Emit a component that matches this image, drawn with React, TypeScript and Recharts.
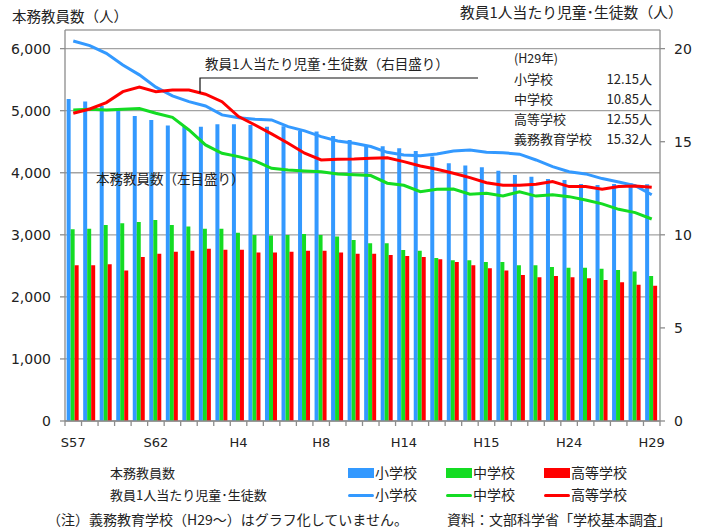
import React from 'react';
import { ComposedChart, Bar, Line, XAxis, YAxis, CartesianGrid } from 'recharts';

if (typeof document !== 'undefined') {
  document.body.style.margin = '0';
}

// ---- data ----
const years = [
  'S57', 'S58', 'S59', 'S60', 'S61', 'S62', 'S63',
  'H1', 'H2', 'H3', 'H4', 'H5', 'H6', 'H7', 'H8', 'H9', 'H10', 'H11', 'H12',
  'H13', 'H14', 'H15', 'H16', 'H17', 'H18', 'H19', 'H20', 'H21', 'H22',
  'H23', 'H24', 'H25', 'H26', 'H27', 'H28', 'H29',
];

// 本務教員数（左目盛り）
const teachersElem = [
  5190, 5146, 5077, 5039, 4915, 4851, 4760, 4743, 4743, 4781, 4781, 4770,
  4743, 4750, 4674, 4663, 4593, 4528, 4448, 4426, 4394, 4350, 4260, 4152,
  4115, 4088, 4034, 3964, 3937, 3900, 3884, 3819, 3803, 3819, 3830, 3814,
];
const teachersJunior = [
  3089, 3099, 3159, 3186, 3207, 3239, 3159, 3132, 3099, 3099, 3035, 2998,
  2987, 2998, 3013, 2998, 2971, 2917, 2863, 2863, 2756, 2745, 2627, 2589,
  2589, 2562, 2562, 2509, 2509, 2482, 2471, 2471, 2455, 2434, 2407, 2337,
];
const teachersHigh = [
  2509, 2509, 2525, 2423, 2643, 2696, 2729, 2745, 2777, 2761, 2761, 2713,
  2713, 2729, 2745, 2745, 2713, 2696, 2696, 2675, 2659, 2643, 2606, 2562,
  2509, 2461, 2423, 2353, 2316, 2337, 2316, 2300, 2273, 2235, 2197, 2181,
];

// 教員1人当たり児童・生徒数（右目盛り）
const ratioElem = [
  20.41, 20.16, 19.75, 19.12, 18.59, 17.93, 17.46, 17.15, 16.92, 16.44, 16.29, 16.21,
  16.17, 15.81, 15.58, 15.27, 15.04, 14.92, 14.74, 14.43, 14.29, 14.25, 14.34, 14.5,
  14.56, 14.43, 14.41, 14.33, 14.02, 13.66, 13.39, 13.27, 13.02, 12.84, 12.64, 12.15,
];
const ratioJunior = [
  16.71, 16.74, 16.71, 16.74, 16.78, 16.53, 16.31, 15.63, 14.83, 14.38, 14.2, 13.97,
  13.57, 13.48, 13.43, 13.39, 13.27, 13.22, 13.18, 12.77, 12.66, 12.32, 12.45, 12.46,
  12.18, 12.23, 12.09, 12.31, 12.08, 12.15, 12.05, 11.87, 11.66, 11.37, 11.19, 10.85,
];
const ratioHigh = [
  16.53, 16.76, 17.1, 17.69, 17.93, 17.69, 17.78, 17.78, 17.55, 17.15, 16.35, 15.9,
  15.42, 14.92, 14.38, 14.02, 14.06, 14.07, 14.11, 14.14, 13.93, 13.7, 13.52, 13.31,
  13.07, 12.8, 12.66, 12.66, 12.71, 12.86, 12.59, 12.59, 12.45, 12.59, 12.62, 12.55,
];

const xTickIndex = [0, 5, 10, 15, 20, 25, 30, 35];
const xTickText = ['S57', 'S62', 'H4', 'H8', 'H14', 'H15', 'H24', 'H29'];
const leftTicks = [0, 1000, 2000, 3000, 4000, 5000, 6000];
const rightTicks = [0, 5, 10, 15, 20];

const infoLabels = ['小学校', '中学校', '高等学校', '義務教育学校'];
const infoValues = ['12.15人', '10.85人', '12.55人', '15.32人'];

const data = years.map((y, i) => ({
  year: y,
  tElem: teachersElem[i],
  tJunior: teachersJunior[i],
  tHigh: teachersHigh[i],
  rElem: ratioElem[i],
  rJunior: ratioJunior[i],
  rHigh: ratioHigh[i],
}));

// ---- layout ----
const W = 701;
const H = 532;
const MARGIN = { top: 30, right: 0, bottom: 81, left: 8 };
const LEFT_AXIS_W = 57;
const RIGHT_AXIS_W = 41;
const X_AXIS_H = 30;
const PLOT_LEFT = MARGIN.left + LEFT_AXIS_W;
const PLOT_RIGHT = W - MARGIN.right - RIGHT_AXIS_W;
const PLOT_BOTTOM = H - MARGIN.bottom - X_AXIS_H;
const BAND = (PLOT_RIGHT - PLOT_LEFT) / years.length;

const BLUE = '#3399ff';
const GREEN = '#14dc23';
const RED = '#ff0000';
const AXIS = '#8c8c8c';
const GRID = '#a3a3a3';
const NUM_FONT = '"DejaVu Sans", Verdana, sans-serif';
const JP_FONT = '"Noto Sans CJK JP", "Noto Sans", sans-serif';

function XTick(props: any) {
  const { x, index } = props;
  const k = xTickIndex.indexOf(index);
  const last = index === years.length - 1;
  return (
    <g>
      <line x1={x - BAND / 2} x2={x - BAND / 2} y1={PLOT_BOTTOM} y2={PLOT_BOTTOM + 5} stroke={AXIS} strokeWidth={1.3} />
      {last && (
        <line x1={x + BAND / 2} x2={x + BAND / 2} y1={PLOT_BOTTOM} y2={PLOT_BOTTOM + 5} stroke={AXIS} strokeWidth={1.3} />
      )}
      {k >= 0 && (
        <text x={x} y={PLOT_BOTTOM + 26} textAnchor="middle" fontFamily={NUM_FONT} fontSize={13} fill="#222">
          {xTickText[k]}
        </text>
      )}
    </g>
  );
}

const txt = (left: number, cy: number, size: number, s: string, extra: any = {}) => (
  <div
    style={{
      position: 'absolute',
      left,
      top: cy - size / 2 - 1,
      fontSize: size,
      lineHeight: 1,
      fontFamily: JP_FONT,
      color: '#222',
      whiteSpace: 'nowrap',
      ...extra,
    }}
  >
    {s}
  </div>
);

export default function App() {
  return (
    <div style={{ position: 'relative', width: W, height: H, background: '#fff', overflow: 'hidden' }}>
      <ComposedChart width={W} height={H} data={data} margin={MARGIN} barCategoryGap="10%" barGap={0}>
        <CartesianGrid yAxisId="left" vertical={false} horizontal stroke={GRID} strokeWidth={1.3} />
        <XAxis
          dataKey="year"
          interval={0}
          height={X_AXIS_H}
          tickLine={false}
          axisLine={{ stroke: AXIS, strokeWidth: 1.3 }}
          tick={<XTick />}
        />
        <YAxis
          yAxisId="left"
          width={LEFT_AXIS_W}
          domain={[0, 6300]}
          ticks={leftTicks}
          tickFormatter={(v: number) => v.toLocaleString('en-US')}
          tickSize={5}
          tickMargin={9}
          tickLine={{ stroke: AXIS, strokeWidth: 1.3 }}
          axisLine={{ stroke: AXIS, strokeWidth: 1.3 }}
          tick={{ fontFamily: NUM_FONT, fontSize: 14, fill: '#222' }}
          allowDataOverflow
        />
        <YAxis
          yAxisId="right"
          orientation="right"
          width={RIGHT_AXIS_W}
          domain={[0, 21]}
          ticks={rightTicks}
          tickSize={5}
          tickMargin={9}
          tickLine={{ stroke: AXIS, strokeWidth: 1.3 }}
          axisLine={{ stroke: AXIS, strokeWidth: 1.3 }}
          tick={{ fontFamily: NUM_FONT, fontSize: 14, fill: '#222', textAnchor: 'start' }}
          allowDataOverflow
        />
        <Bar yAxisId="left" dataKey="tElem" fill={BLUE} isAnimationActive={false} />
        <Bar yAxisId="left" dataKey="tJunior" fill={GREEN} isAnimationActive={false} />
        <Bar yAxisId="left" dataKey="tHigh" fill={RED} isAnimationActive={false} />
        <Line yAxisId="right" dataKey="rElem" stroke={BLUE} strokeWidth={3} dot={false} type="linear" isAnimationActive={false} />
        <Line yAxisId="right" dataKey="rJunior" stroke={GREEN} strokeWidth={3} dot={false} type="linear" isAnimationActive={false} />
        <Line yAxisId="right" dataKey="rHigh" stroke={RED} strokeWidth={3} dot={false} type="linear" isAnimationActive={false} />
      </ComposedChart>

      {/* callout lines */}
      <svg width={W} height={H} style={{ position: 'absolute', left: 0, top: 0, pointerEvents: 'none' }}>
        <polyline points="200,93 200,78 478,78" fill="none" stroke="#111" strokeWidth={1.2} />
      </svg>

      {/* titles */}
      {txt(12, 17, 14.5, '本務教員数（人）')}
      {txt(460, 13, 14.8, '教員1人当たり児童･生徒数（人）')}

      {/* annotations */}
      {txt(205, 65, 13.5, '教員1人当たり児童･生徒数（右目盛り）')}
      {txt(96, 180, 13.5, '本務教員数（左目盛り）')}

      {/* info box */}
      {txt(514, 59, 12.5, '(H29年)')}
      {infoLabels.map((l, i) => (
        <React.Fragment key={l}>
          {txt(514, 79 + i * 20, 13, l)}
          {txt(0, 79 + i * 20, 13, infoValues[i], { left: 'auto', right: W - 652 })}
        </React.Fragment>
      ))}

      {/* legend */}
      {txt(110, 473, 13, '本務教員数')}
      {txt(110, 495, 13, '教員1人当たり児童･生徒数')}
      {[
        { c: BLUE, l: '小学校', x: 348 },
        { c: GREEN, l: '中学校', x: 446 },
        { c: RED, l: '高等学校', x: 544 },
      ].map((it) => (
        <React.Fragment key={it.l}>
          <div style={{ position: 'absolute', left: it.x, top: 468, width: 26, height: 10, background: it.c }} />
          {txt(it.x + 27, 473, 14, it.l)}
          <div
            style={{
              position: 'absolute',
              left: it.x,
              top: 493.5,
              width: 26,
              height: 3,
              borderRadius: 2,
              background: it.c,
            }}
          />
          {txt(it.x + 27, 495, 14, it.l)}
        </React.Fragment>
      ))}

      {/* footer */}
      {txt(47, 520, 14, '（注）義務教育学校（H29～）はグラフ化していません。')}
      {txt(447, 520, 14, '資料：文部科学省「学校基本調査」')}
    </div>
  );
}
